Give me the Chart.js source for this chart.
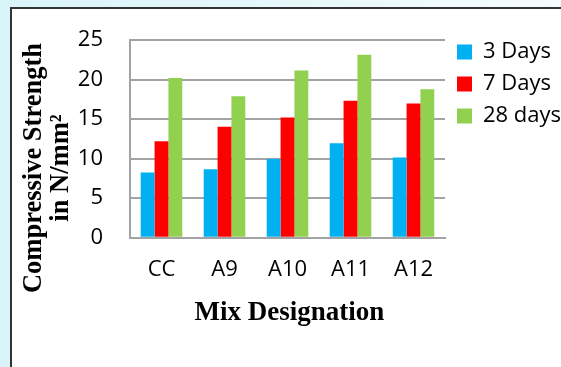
<!DOCTYPE html>
<html>
<head>
<meta charset="utf-8">
<script src="https://cdn.jsdelivr.net/npm/chart.js@4/dist/chart.umd.min.js"></script>
<style>
  html, body { margin: 0; padding: 0; }
  body {
    width: 561px; height: 367px; overflow: hidden; position: relative;
    background: linear-gradient(90deg, #d9f4f9 0%, #e4f7fa 45%, #f6fcfd 100%);
  }
  #frame {
    position: absolute; left: 10px; top: 7px; width: 620px; height: 420px;
    background: #ffffff; border-left: 2px solid #333; border-top: 2px solid #333;
  }
  #wrap { position: absolute; left: 0; top: 0; width: 561px; height: 367px; }
</style>
</head>
<body>
<div id="frame"></div>
<div id="wrap"><canvas id="chart" width="561" height="367"></canvas></div>
<script>
// Mix designations and compressive strength (N/mm²) at each curing age
const categories = ['CC', 'A9', 'A10', 'A11', 'A12'];
const days3  = [8.25, 8.65, 9.95, 11.95, 10.15];
const days7  = [12.2, 14.05, 15.2, 17.35, 17.0];
const days28 = [20.2, 17.9, 21.15, 23.15, 18.8];
const seriesNames = ['3 Days', '7 Days', '28 days'];
const yTicks = [0, 5, 10, 15, 20, 25];

const yTitle = ['Compressive Strength', 'in N/mm\u00B2'];
const xTitle = 'Mix Designation';

const gridGray = '#a3a3a3';
const labelFont = { family: "'Open Sans', sans-serif", size: 22 };
const titleFamily = "'Liberation Serif', 'Times New Roman', serif";

// Nudge the legend block so it sits near the top of the plot
const legendNudge = {
  id: 'legendNudge',
  afterLayout(chart) {
    const lg = chart.legend;
    if (!lg) return;
    const dx = 2, dy = -5;
    lg.left += dx; lg.right += dx;
    lg.top += dy; lg.bottom += dy;
  }
};

// Axis titles in bold serif, drawn beside the plot area
const axisTitles = {
  id: 'axisTitles',
  afterDraw(chart) {
    const { ctx, chartArea } = chart;
    ctx.save();
    ctx.fillStyle = '#000';
    ctx.textAlign = 'center';
    ctx.textBaseline = 'alphabetic';
    ctx.font = 'bold 27px ' + titleFamily;
    ctx.fillText(xTitle, (chartArea.left + chartArea.right) / 2 + 2, 320);
    ctx.font = 'bold 26.5px ' + titleFamily;
    ctx.translate(41, 168);
    ctx.rotate(-Math.PI / 2);
    ctx.fillText(yTitle[0], 0, 0);
    ctx.fillText(yTitle[1], 0, 26.5);
    ctx.restore();
  }
};

new Chart(document.getElementById('chart'), {
  type: 'bar',
  data: {
    labels: categories,
    datasets: [
      { label: seriesNames[0], data: days3,  backgroundColor: '#00b0f0' },
      { label: seriesNames[1], data: days7,  backgroundColor: '#ff0000' },
      { label: seriesNames[2], data: days28, backgroundColor: '#92d050' }
    ]
  },
  options: {
    responsive: false,
    animation: false,
    events: [],
    datasets: { bar: { categoryPercentage: 0.66, barPercentage: 1.0 } },
    layout: { padding: { top: 36, right: 2, bottom: 0, left: 0 } },
    plugins: {
      legend: {
        position: 'right',
        align: 'start',
        maxWidth: 114,
        labels: {
          boxWidth: 15, boxHeight: 15, padding: 10,
          color: '#000', font: labelFont
        }
      },
      tooltip: { enabled: false },
      title: { display: false }
    },
    scales: {
      x: {
        grid: { display: false, drawTicks: false },
        border: { display: true, color: gridGray, width: 2 },
        ticks: { color: '#000', font: labelFont, padding: 19 },
        afterFit(scale) { scale.height = 129.3; }
      },
      y: {
        min: yTicks[0],
        max: yTicks[yTicks.length - 1],
        afterBuildTicks(scale) { scale.ticks = yTicks.map(v => ({ value: v })); },
        grid: { color: gridGray, lineWidth: 2, drawTicks: false },
        border: { display: true, color: gridGray, width: 2 },
        ticks: { color: '#000', font: labelFont, padding: 27 },
        afterFit(scale) { scale.width = 130; }
      }
    }
  },
  plugins: [legendNudge, axisTitles]
});
</script>
</body>
</html>
